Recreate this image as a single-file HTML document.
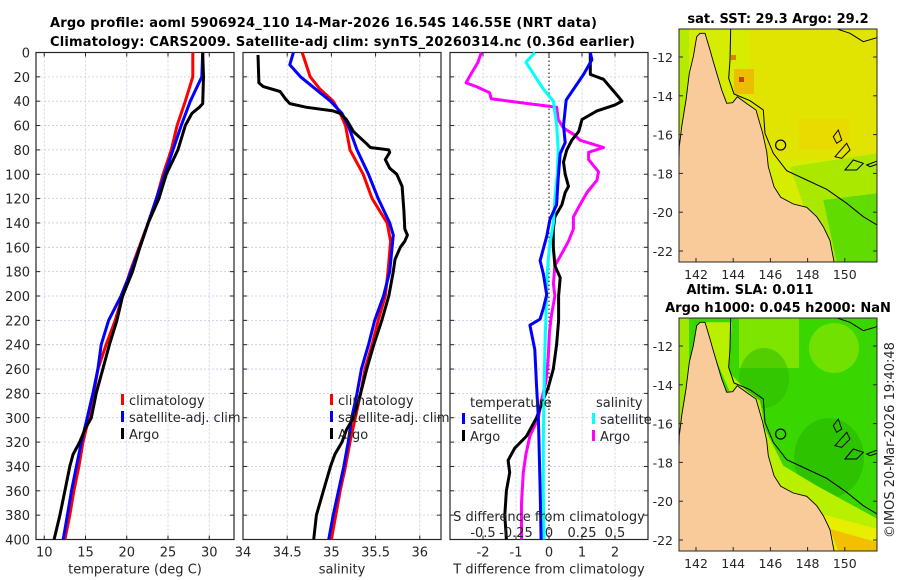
<!DOCTYPE html>
<html><head><meta charset="utf-8"><style>
body{margin:0;background:#fff;}
svg{display:block;font-family:"DejaVu Sans","Liberation Sans",sans-serif;}
</style></head><body>
<svg id="fig" width="900" height="580" viewBox="0 0 900 580" xmlns="http://www.w3.org/2000/svg">
<rect width="900" height="580" fill="#fff"/>
<text x="50" y="27" font-size="13" font-weight="bold" fill="#000" textLength="547">Argo profile: aoml 5906924_110 14-Mar-2026 16.54S 146.55E (NRT data)</text>
<text x="50" y="46" font-size="13" font-weight="bold" fill="#000" textLength="585">Climatology: CARS2009. Satellite-adj clim: synTS_20260314.nc (0.36d earlier)</text>
<g id="panels"></g>
<g id="maps"></g>
<text transform="translate(894,440) rotate(-90)" text-anchor="middle" font-size="13" fill="#262626">©IMOS 20-Mar-2026 19:40:48</text>
</svg>
<script>
// ---------- data ----------
const depthTicks=[0,20,40,60,80,100,120,140,160,180,200,220,240,260,280,300,320,340,360,380,400];
const tempTicks=[10,15,20,25,30];
const salTicks=[34,34.5,35,35.5,36];
const tdiffTicks=[-2,-1,0,1,2];
const sdiffTicks=[-0.5,-0.25,0,0.25,0.5];

const climTDepth=[0,20,40,60,80,100,120,140,160,180,200,220,240,260,280,300,320,340,360,380,400];
const climT=[28.0,28.0,27.1,26.1,25.4,24.4,23.6,22.6,21.5,20.4,19.5,18.6,17.5,16.5,16.0,15.4,14.7,14.2,13.6,13.1,12.5];
const satT=[29.2,29.1,27.7,26.6,25.6,24.6,23.6,22.6,21.6,20.5,19.3,17.8,16.9,16.5,15.9,15.2,14.5,13.9,13.3,12.8,12.3];
const argoTDepth=[0,20,42,45,50,60,80,100,120,140,160,180,200,220,240,260,280,300,310,320,330,340,360,380,400];
const argoT=[29.2,29.3,29.2,28.8,27.9,27.1,26.2,24.8,23.9,22.6,21.6,20.7,19.5,18.8,17.9,17.1,16.3,15.7,14.9,14.3,13.5,13.1,12.5,11.9,11.2];

const climSDepth=[0,20,30,40,50,60,80,100,120,140,155,180,200,220,240,260,280,300,320,340,360,380,400];
const climS=[34.67,34.76,34.87,35.02,35.10,35.16,35.21,35.36,35.46,35.63,35.67,35.64,35.61,35.53,35.46,35.38,35.33,35.27,35.21,35.16,35.10,35.05,35.00];
const satSDepth=[0,10,20,40,50,60,80,100,120,140,150,180,200,220,240,260,280,300,320,340,360,380,400];
const satS=[34.57,34.53,34.65,34.99,35.12,35.19,35.29,35.42,35.53,35.66,35.70,35.66,35.59,35.49,35.42,35.34,35.29,35.23,35.19,35.14,35.08,35.02,34.97];
const argoSDepth=[2,25,28,32,38,42,45,48,50,55,65,75,78,80,82,88,95,100,110,130,145,150,155,160,170,180,200,220,240,260,280,300,310,320,330,340,360,380,400];
const argoS=[34.17,34.18,34.23,34.42,34.48,34.53,34.72,35.02,35.10,35.17,35.25,35.40,35.44,35.65,35.66,35.61,35.66,35.74,35.80,35.82,35.83,35.86,35.83,35.78,35.72,35.70,35.65,35.57,35.48,35.40,35.33,35.25,35.17,35.12,35.04,34.99,34.91,34.83,34.80];

const dTsatDepth=[0,6,18,39,60,74,83,103,125,137,151,171,182,199,210,219,224,244,273,301,357,400];
const dTsat=[1.25,1.3,1.05,0.52,0.44,0.49,0.34,0.28,0.23,0.03,-0.07,-0.27,-0.17,-0.07,-0.17,-0.27,-0.58,-0.43,-0.38,-0.32,-0.27,-0.24];
const dSsatDepth=[0,8,30,40,60,80,100,120,140,160,180,200,240,280,320,360,400];
const dSsat=[-0.107,-0.175,-0.043,0.033,0.058,0.07,0.063,0.045,0.033,0.003,-0.013,-0.018,-0.03,-0.038,-0.043,-0.043,-0.038];
const dTargoDepth=[0,18,22,35,40,43,48,55,65,72,80,90,100,110,115,125,135,145,160,175,185,200,220,240,260,275,285,300,315,325,335,345,360,380,400];
const dTargo=[1.25,1.25,1.65,2.06,2.21,2.0,1.45,1.0,0.9,0.69,0.54,0.44,0.49,0.59,0.49,0.39,0.18,0.13,0.13,0.18,0.34,0.29,0.29,0.23,0.13,-0.02,-0.17,-0.38,-0.68,-1.04,-1.24,-1.19,-1.29,-1.34,-1.29];
const dSargoDepth=[0,8,20,25,28,33,38,40,45,55,62,68,72,78,82,88,98,105,115,125,135,145,155,165,175,190,200,215,230,250,270,285,300,315,330,345,370,400];
const dSargo=[-0.513,-0.538,-0.603,-0.628,-0.55,-0.45,-0.438,-0.298,0.058,0.07,0.11,0.198,0.235,0.413,0.3,0.3,0.375,0.363,0.288,0.235,0.185,0.185,0.148,0.098,0.045,0.033,0.045,0.02,0.003,-0.005,-0.023,-0.055,-0.08,-0.145,-0.175,-0.195,-0.208,-0.208];

// ---------- helpers ----------
const NS="http://www.w3.org/2000/svg";
function mk(tag,attrs,parent,txt){const e=document.createElementNS(NS,tag);for(const k in attrs)e.setAttribute(k,attrs[k]);if(txt!==undefined)e.textContent=txt;parent.appendChild(e);return e;}
const TOP=52.5,BOT=539.5;
const yD=d=>TOP+(BOT-TOP)*d/400;
const P=document.getElementById('panels');

function panel(name,x0,x1,xmin,xmax,ticks,tickFmt,xlabel,showY){
  const g=mk('g',{},P);
  
  
  const xs=v=>x0+(x1-x0)*(v-xmin)/(xmax-xmin);
  depthTicks.forEach(d=>{const l=mk('line',{x1:x0,x2:x1,y1:yD(d),y2:yD(d),stroke:'#c5cae6','stroke-width':0.8,'stroke-dasharray':'2,2'},g);
    });
  ticks.forEach(v=>{const l=mk('line',{x1:xs(v),x2:xs(v),y1:TOP,y2:BOT,stroke:'#c5cae6','stroke-width':0.8,'stroke-dasharray':'2,2'},g);
    });
  depthTicks.forEach(d=>{mk('line',{x1:x0,x2:x0+4,y1:yD(d),y2:yD(d),stroke:'#262626','stroke-width':1},g);mk('line',{x1:x1,x2:x1-4,y1:yD(d),y2:yD(d),stroke:'#262626','stroke-width':1},g);});
  ticks.forEach(v=>{mk('line',{x1:xs(v),x2:xs(v),y1:BOT,y2:BOT-4,stroke:'#262626'},g);mk('line',{x1:xs(v),x2:xs(v),y1:TOP,y2:TOP+4,stroke:'#262626'},g);
    const t=mk('text',{x:xs(v),y:BOT+17,'text-anchor':'middle','font-size':13,fill:'#262626'},g,tickFmt(v));
    });
  if(showY){depthTicks.forEach(d=>{const t=mk('text',{x:x0-6,y:yD(d)+5,'text-anchor':'end','font-size':13,fill:'#262626'},g,String(d));
    });}
  const fr=mk('rect',{x:x0,y:TOP,width:x1-x0,height:BOT-TOP,fill:'none',stroke:'#262626','stroke-width':1.2},g);
  
  if(xlabel){const t=mk('text',{x:(x0+x1)/2,y:BOT+34,'text-anchor':'middle','font-size':13,fill:'#262626'},g,xlabel);
    }
  return {g,xs};
}
function line(pn,vals,depths,color,name,xs){
  const pts=vals.map((v,i)=>xs(v).toFixed(1)+','+yD(depths[i]).toFixed(1)).join(' ');
  const p=mk('polyline',{points:pts,fill:'none',stroke:color,'stroke-width':3,'stroke-linejoin':'round'},pn.g);
  
  
}
function legend(g,x,y,items){
  items.forEach((it,i)=>{
    const yy=y+i*17;
    mk('rect',{x:x,y:yy-11,width:3,height:11,fill:it[1]},g);
    const t=mk('text',{x:x+8,y:yy,'font-size':13,fill:'#262626'},g,it[0]);
    
    
  });
}
const p1=panel('temperature-panel',36,234,9,33,tempTicks,v=>String(v),'temperature (deg C)',true);
line(p1,climT,climTDepth,'#ff0000','climatology-temp-line',p1.xs);
line(p1,satT,climTDepth,'#0000ff','satellite-temp-line',p1.xs);
line(p1,argoT,argoTDepth,'#000000','argo-temp-line',p1.xs);
legend(p1.g,121,405,[['climatology','#ff0000'],['satellite-adj. clim','#0000ff'],['Argo','#000']]);
const p2=panel('salinity-panel',243,441,34,36.24,salTicks,v=>String(v),'salinity',false);
line(p2,climS,climSDepth,'#ff0000','climatology-sal-line',p2.xs);
line(p2,satS,satSDepth,'#0000ff','satellite-sal-line',p2.xs);
line(p2,argoS,argoSDepth,'#000000','argo-sal-line',p2.xs);
legend(p2.g,330,405,[['climatology','#ff0000'],['satellite-adj. clim','#0000ff'],['Argo','#000']]);
const p3=panel('difference-panel',450,648,-3,3,tdiffTicks,v=>String(v),'T difference from climatology',false);
const zx=p3.xs(0);
mk('line',{x1:zx,x2:zx,y1:TOP,y2:BOT,stroke:'#000','stroke-width':1,'stroke-dasharray':'1.5,2.5'},p3.g);
const sxs=v=>p3.xs(v*4);
line(p3,dSargo,dSargoDepth,'#ff00ff','argo-sal-diff-line',sxs);
line(p3,dTargo,dTargoDepth,'#000000','argo-temp-diff-line',p3.xs);
line(p3,dSsat,dSsatDepth,'#00ffff','satellite-sal-diff-line',sxs);
line(p3,dTsat,dTsatDepth,'#0000ff','satellite-temp-diff-line',p3.xs);
mk('text',{x:470,y:407,'font-size':13,fill:'#262626'},p3.g,'temperature');
mk('text',{x:596,y:407,'font-size':13,fill:'#262626'},p3.g,'salinity');
legend(p3.g,462,424,[['satellite','#0000ff'],['Argo','#000']]);
legend(p3.g,592,424,[['satellite','#00ffff'],['Argo','#ff00ff']]);
const st=mk('text',{x:549,y:521,'text-anchor':'middle','font-size':13,fill:'#262626'},p3.g,'S difference from climatology');

sdiffTicks.forEach(v=>{const t=mk('text',{x:sxs(v),y:537,'text-anchor':'middle','font-size':13,fill:'#262626'},p3.g,String(v));
  });

// ---------- maps ----------
const M=document.getElementById('maps');
const lonTicks=[142,144,146,148,150];
const latTicks=[-12,-14,-16,-18,-20,-22];
function map(name,y0,title,kind){
  const g=mk('g',{},M);
  
  
  const x0=679,w=198,h=233;
  const lx=lon=>696+(lon-142)*18.6;
  const ly=lat=>y0+28+(-12-lat)*19.4;
  const id='clip'+y0;
  const cp=mk('clipPath',{id:id},g);mk('rect',{x:x0,y:y0,width:w,height:h},cp);
  const c=mk('g',{'clip-path':'url(#'+id+')'},g);
  const T=(px,py)=>(x0+px/3-29).toFixed(1)+','+(y0+py/3-29).toFixed(1);
  if(kind==='sst'){
    mk('rect',{x:x0,y:y0,width:w,height:h,fill:'#d6ec00'},c);
    mk('rect',{x:x0+70,y:y0,width:128,height:130,fill:'#e4e200',opacity:0.8},c);
    mk('rect',{x:x0+120,y:y0+90,width:50,height:30,fill:'#eed400',opacity:0.6},c);
    mk('rect',{x:x0+55,y:y0+40,width:20,height:25,fill:'#f0b400',opacity:0.8},c);
    mk('rect',{x:x0+60,y:y0+48,width:5,height:5,fill:'#c84000'},c);
    mk('rect',{x:x0+52,y:y0+26,width:5,height:5,fill:'#e08000'},c);
    mk('polygon',{points:T(420,500)+' '+T(683,460)+' '+T(683,785)+' '+T(520,785),fill:'#a6e800',opacity:0.9},c);
    mk('polygon',{points:T(520,600)+' '+T(683,580)+' '+T(683,785)+' '+T(560,785),fill:'#60dc00'},c);
    mk('rect',{x:x0,y:y0,width:10,height:100,fill:'#b6ea00'},c);
  } else {
    mk('rect',{x:x0,y:y0,width:w,height:h,fill:'#3ad600'},c);
    mk('rect',{x:x0+60,y:y0,width:60,height:50,fill:'#aaee00',opacity:0.6},c);
    mk('ellipse',{cx:x0+155,cy:y0+30,rx:25,ry:25,fill:'#7ee400',opacity:0.8},c);
    mk('ellipse',{cx:x0+85,cy:y0+60,rx:25,ry:30,fill:'#2ab800',opacity:0.5},c);
    mk('ellipse',{cx:x0+150,cy:y0+140,rx:35,ry:40,fill:'#22b000',opacity:0.5},c);
    mk('polygon',{points:T(150,100)+' '+T(245,100)+' '+T(238,250)+' '+T(290,305)+' '+T(330,335)+' '+T(345,420)+' '+T(400,530)+' '+T(500,590)+' '+T(683,690)+' '+T(683,800)+' '+T(450,800),fill:'#b8f000'},c);
    mk('polygon',{points:T(420,650)+' '+T(683,720)+' '+T(683,800)+' '+T(450,800),fill:'#e8ee00'},c);
    mk('polygon',{points:T(540,720)+' '+T(683,760)+' '+T(683,800)+' '+T(570,800),fill:'#f2c000'},c);
    mk('rect',{x:x0,y:y0,width:10,height:110,fill:'#a0e800'},c);
  }
  const coast=[[88,440],[95,380],[108,300],[118,220],[130,170],[140,110],[150,100],[165,100],[180,150],[190,185],[215,270],[230,310],[248,308],[262,290],[292,312],[318,330],[338,400],[350,455],[355,500],[372,560],[392,592],[430,612],[470,622],[500,650],[520,680],[540,722],[555,800],[80,800]];
  const land=mk('polygon',{points:coast.map(p=>T(p[0],p[1])).join(' '),fill:'#f9cb9a',stroke:'#000','stroke-width':0.9},c);
  
  const shelf=[[242,85],[240,180],[236,235],[252,282],[300,302],[340,330],[345,400],[370,460],[410,512],[470,540],[530,568],[590,610],[640,650],[690,680]];
  mk('polyline',{points:shelf.map(p=>T(p[0],p[1])).join(' '),fill:'none',stroke:'#000','stroke-width':1},c);
  mk('polyline',{points:[[555,85],[600,100],[640,125],[690,110]].map(p=>T(p[0],p[1])).join(' '),fill:'none',stroke:'#000','stroke-width':1},c);
  [[[550,410],[565,390],[575,420],[560,430]],[[555,470],[590,430],[600,450],[575,475]],[[585,510],[610,480],[640,490],[620,510]],[[650,495],[690,480],[690,490],[660,500]]].forEach(r=>{
    mk('polygon',{points:r.map(p=>T(p[0],p[1])).join(' '),fill:'none',stroke:'#000','stroke-width':1},c);});
  const mk1=mk('circle',{cx:lx(146.55),cy:ly(-16.54),r:5,fill:'none',stroke:'#000','stroke-width':1.2},g);
  
  mk('rect',{x:x0,y:y0,width:w,height:h,fill:'none',stroke:'#262626','stroke-width':1},g);
  latTicks.forEach(v=>{mk('line',{x1:x0,x2:x0+4,y1:ly(v),y2:ly(v),stroke:'#262626'},g);mk('line',{x1:x0+w,x2:x0+w-4,y1:ly(v),y2:ly(v),stroke:'#262626'},g);
    const t=mk('text',{x:x0-6,y:ly(v)+5,'text-anchor':'end','font-size':12.5,fill:'#262626'},g,String(v));
    });
  lonTicks.forEach(v=>{mk('line',{x1:lx(v),x2:lx(v),y1:y0+h,y2:y0+h-4,stroke:'#262626'},g);
    const t=mk('text',{x:lx(v),y:y0+h+17,'text-anchor':'middle','font-size':12.5,fill:'#262626'},g,String(v));
    });
  title.forEach((s,i)=>{const t=mk('text',{x:s[1],y:y0-(title.length-1-i)*18-6,'text-anchor':'middle','font-size':13,'font-weight':'bold',fill:'#000'},g,s[0]);
    });
}
map('sst-map',29,[['sat. SST: 29.3 Argo: 29.2',778]],'sst');
map('sla-map',318,[['Altim. SLA: 0.011',750],['Argo h1000: 0.045 h2000: NaN',778]],'sla');
</script>
</body></html>
